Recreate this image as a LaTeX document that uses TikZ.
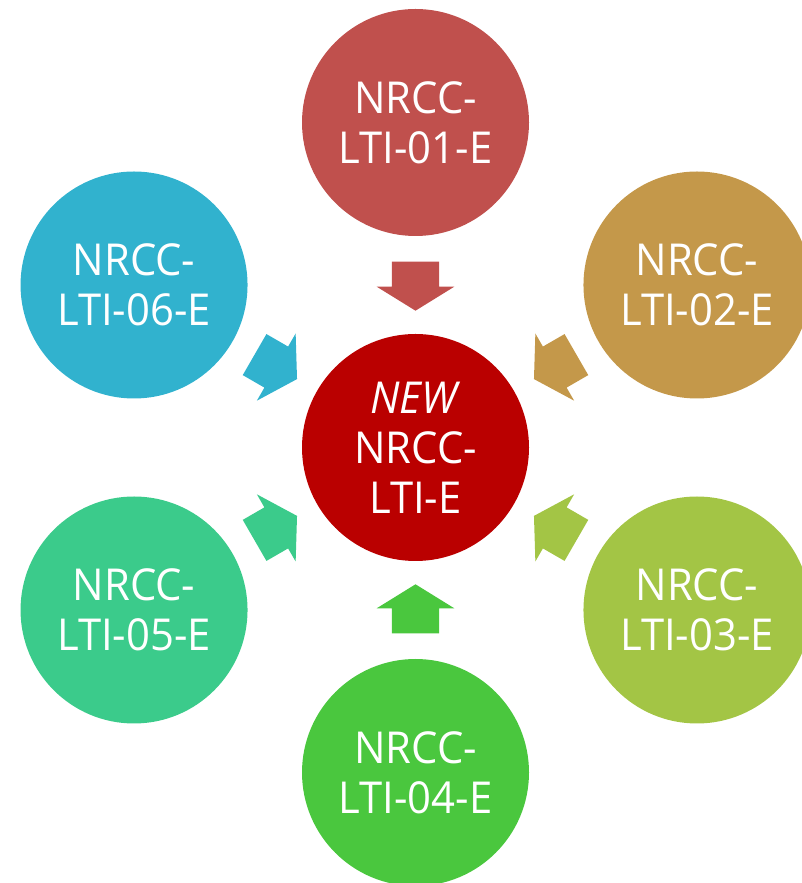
\documentclass[tikz,border=0pt]{standalone}
\usepackage{fontspec}
\setmainfont{Open Sans}[FakeStretch=0.95]
\definecolor{cA}{HTML}{C0504D}
\definecolor{cB}{HTML}{C4984A}
\definecolor{cC}{HTML}{A3C545}
\definecolor{cD}{HTML}{4AC73E}
\definecolor{cE}{HTML}{3BCB8B}
\definecolor{cF}{HTML}{31B2CE}
\definecolor{cM}{HTML}{BA0000}
\tikzset{
  bub/.style={circle, minimum size=227pt, inner sep=0pt, text=white, align=center,
    font=\fontsize{44}{50}\selectfont},
  blockarrow/.pic={\fill (185.8,23.7) -- (160.8,23.7) -- (160.8,38.8) -- (136.8,0) -- (160.8,-38.8) -- (160.8,-23.7) -- (185.8,-23.7) -- cycle;}
}
\begin{document}
\begin{tikzpicture}[x=1pt,y=1pt]
\useasboundingbox (0,0) rectangle (802,883);
\clip (0,0) rectangle (802,883);
\coordinate (C) at (415.5,435.5);
\node[bub, fill=cM] (m) at (C) {\textit{NEW}\\NRCC-\\LTI-E};
\node[bub, fill=cA] (n1) at ([shift={(90:325)}]C) {NRCC-\\LTI-01-E};
\node[bub, fill=cB] (n2) at ([shift={(30:325)}]C) {NRCC-\\LTI-02-E};
\node[bub, fill=cC] (n3) at ([shift={(-30:325)}]C) {NRCC-\\LTI-03-E};
\node[bub, fill=cD] (n4) at ([shift={(-90:325)}]C) {NRCC-\\LTI-04-E};
\node[bub, fill=cE] (n5) at ([shift={(-150:325)}]C) {NRCC-\\LTI-05-E};
\node[bub, fill=cF] (n6) at ([shift={(150:325)}]C) {NRCC-\\LTI-06-E};
\pic[cA, rotate=90] at (C) {blockarrow};
\pic[cB, rotate=30] at (C) {blockarrow};
\pic[cC, rotate=-30] at (C) {blockarrow};
\pic[cD, rotate=-90] at (C) {blockarrow};
\pic[cE, rotate=-150] at (C) {blockarrow};
\pic[cF, rotate=150] at (C) {blockarrow};
\end{tikzpicture}
\end{document}
